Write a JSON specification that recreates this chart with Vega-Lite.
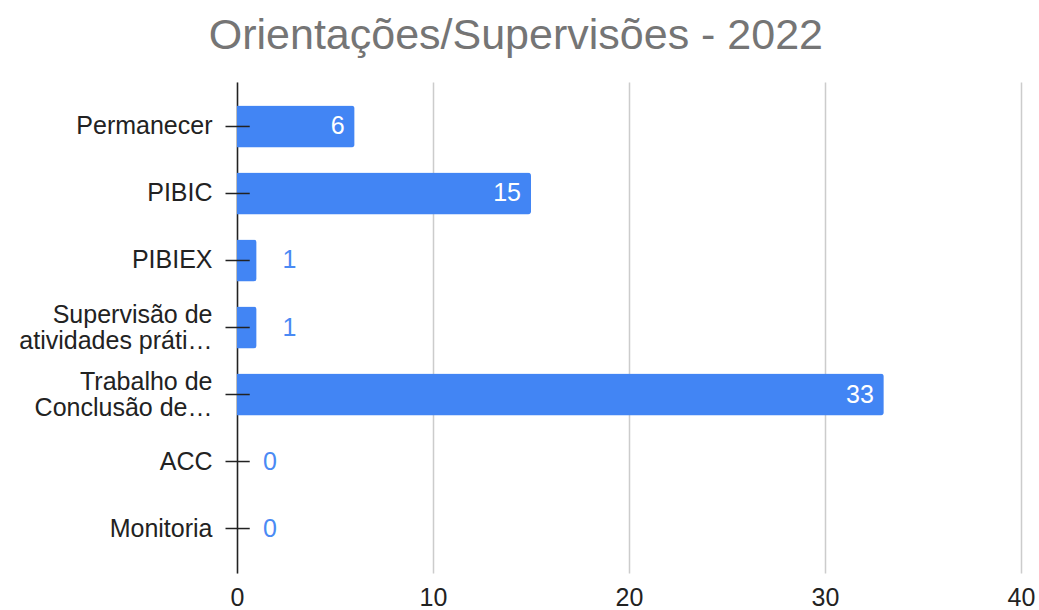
{
  "$schema": "https://vega.github.io/schema/vega-lite/v6.json",
  "autosize": {"type": "none"},
  "padding": {"left": 237, "top": 82, "right": 18, "bottom": 37},
  "width": 784,
  "height": 491,
  "background": "white",
  "title": {
    "text": "Orientações/Supervisões - 2022",
    "fontSize": 43,
    "font": "Liberation Sans",
    "fontWeight": "normal",
    "color": "#757575",
    "anchor": "middle",
    "frame": "bounds",
    "dx": -11,
    "offset": 24
  },
  "config": {
    "view": {"stroke": null},
    "font": "Liberation Sans"
  },
  "data": {
    "values": [
      {"categoria": "Permanecer", "valor": 6},
      {"categoria": "PIBIC", "valor": 15},
      {"categoria": "PIBIEX", "valor": 1},
      {"categoria": "Supervisão de atividades práti…", "valor": 1},
      {"categoria": "Trabalho de Conclusão de…", "valor": 33},
      {"categoria": "ACC", "valor": 0},
      {"categoria": "Monitoria", "valor": 0}
    ]
  },
  "encoding": {
    "y": {
      "field": "categoria",
      "type": "nominal",
      "sort": null,
      "scale": {"paddingInner": 0.373, "paddingOuter": 0.35},
      "axis": {
        "title": null,
        "domainColor": "#222222",
        "domainWidth": 1.5,
        "tickColor": "#222222",
        "tickWidth": 1.5,
        "tickSize": 12,
        "labelPadding": 13,
        "labelFontSize": 25,
        "labelColor": "#222222",
        "labelLimit": 400,
        "labelLineHeight": 26,
        "labelOffset": {"condition": {"test": "indexof(datum.value, 'Supervisão') == 0 || indexof(datum.value, 'Trabalho') == 0", "value": -13}, "value": 0},
        "labelExpr": "datum.label == 'Supervisão de atividades práti…' ? ['Supervisão de', 'atividades práti…'] : datum.label == 'Trabalho de Conclusão de…' ? ['Trabalho de', 'Conclusão de…'] : datum.label"
      }
    }
  },
  "layer": [
    {
      "mark": {"type": "bar", "color": "#4285f4", "cornerRadiusEnd": 3},
      "encoding": {
        "x": {
          "field": "valor",
          "type": "quantitative",
          "scale": {"domain": [0, 40], "nice": false},
          "axis": {
            "title": null,
            "values": [0, 10, 20, 30, 40],
            "domain": false,
            "ticks": false,
            "grid": true,
            "gridColor": "#cccccc",
            "gridWidth": 1.5,
            "labelFlush": false,
            "labelFontSize": 25,
            "labelColor": "#222222",
            "labelPadding": 12
          }
        }
      }
    },
    {
      "mark": {"type": "rule", "color": "#222222", "strokeWidth": 1.5},
      "encoding": {
        "x": {"datum": 0},
        "x2": {"datum": 0.65}
      }
    },
    {
      "transform": [{"filter": "datum.valor >= 5"}],
      "mark": {"type": "text", "align": "right", "baseline": "middle", "dx": -10, "fontSize": 25, "color": "white"},
      "encoding": {
        "x": {"field": "valor", "type": "quantitative"},
        "text": {"field": "valor", "type": "quantitative"}
      }
    },
    {
      "transform": [{"filter": "datum.valor < 5"}],
      "mark": {"type": "text", "align": "left", "baseline": "middle", "dx": 26, "fontSize": 25, "color": "#4a8af4"},
      "encoding": {
        "x": {"field": "valor", "type": "quantitative"},
        "text": {"field": "valor", "type": "quantitative"}
      }
    }
  ]
}
